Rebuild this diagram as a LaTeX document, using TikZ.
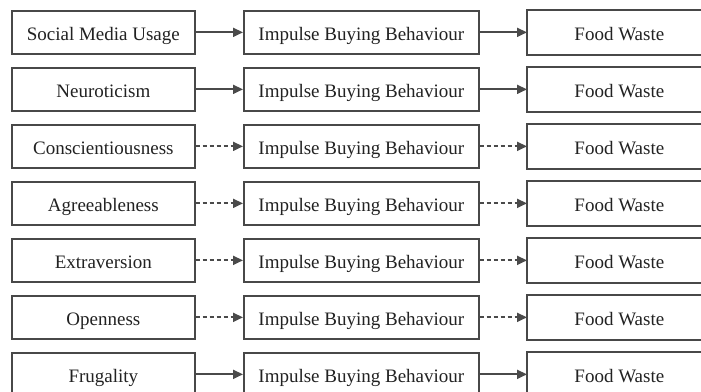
\documentclass[tikz,border=0pt]{standalone}
\usepackage{fontspec}
\setmainfont{Liberation Serif}
\usetikzlibrary{arrows.meta}
\definecolor{boxline}{HTML}{484848}
\definecolor{arrowcol}{HTML}{4A4A4A}
\definecolor{txt}{HTML}{222222}
\begin{document}
\begin{tikzpicture}[x=1pt,y=-1pt,
  box/.style={draw=boxline, line width=1.7pt, fill=white, anchor=north west,
    minimum height=43pt, inner sep=0pt, text=txt, text height=16pt, text depth=0pt,
    font=\fontsize{19}{21}\selectfont},
  leftbox/.style={box, minimum width=183pt},
  midbox/.style={box, minimum width=235pt},
  rightbox/.style={box, draw=none, minimum width=183pt},
  edge/.style={draw=boxline, line width=1.7pt},
  link/.style={draw=arrowcol, line width=1.8pt, -{Triangle[length=10pt,width=9pt]}},
  weak/.style={link, dash pattern=on 4pt off 3pt}
]
\useasboundingbox (0,0) rectangle (701,391);
\clip (0,0) rectangle (701,391);

\foreach \i/\name/\sty in {0/Social Media Usage/link, 1/Neuroticism/link,
    2/Conscientiousness/weak, 3/Agreeableness/weak, 4/Extraversion/weak,
    5/Openness/weak, 6/Frugality/link} {
  \node[leftbox]  (a\i) at (11, 10+57*\i) {\name};
  \node[midbox]   (b\i) at (243,10+57*\i) {Impulse Buying Behaviour};
  \node[rightbox] (c\i) at (527,10+57*\i) {Food Waste};
  % the outcome boxes run on past the right margin
  \draw[edge] ([xshift=80pt]c\i.north east) -- (c\i.north west)
    -- (c\i.south west) -- ([xshift=80pt]c\i.south east);
  \draw[\sty] (a\i.east) -- (b\i.west);
  \draw[\sty] (b\i.east) -- (c\i.west);
}
\end{tikzpicture}
\end{document}
